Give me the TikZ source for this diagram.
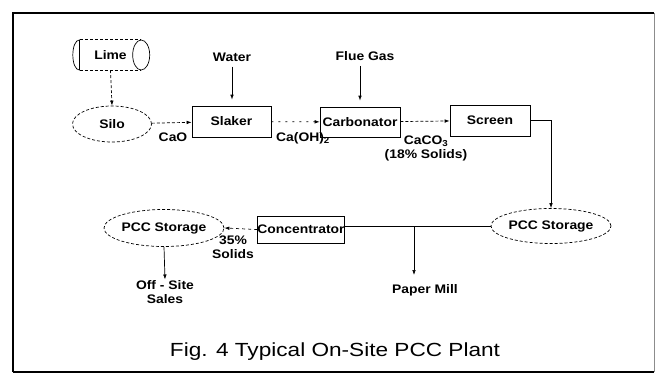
\documentclass[tikz,border=0pt]{standalone}
\usepackage{fontspec}
\setmainfont{Liberation Sans}
\newfontfamily\labfont[FakeStretch=1.12]{Liberation Sans}
\newfontfamily\capfont[FakeStretch=1.19]{Liberation Sans}
\usetikzlibrary{shapes.geometric,arrows.meta,calc}
\begin{document}
\begin{tikzpicture}[x=1pt,y=-1pt,
  lab/.style={font=\labfont\bfseries\fontsize{12.4}{13.5}\selectfont, inner sep=1pt, align=center},
  box/.style={lab, draw, line width=0.7pt, minimum width=80pt, minimum height=30pt, inner sep=0pt},
  oval/.style={lab, ellipse, draw, densely dashed, line width=0.7pt, inner sep=0pt},
  flow/.style={line width=0.7pt, -{Latex[length=5pt,width=3.6pt]}},
  link/.style={line width=0.7pt},
]
\useasboundingbox (0,0) rectangle (656,375);
\fill[white] (0,0) rectangle (656,375);
% frame
\draw[line width=1.8pt] (13,372) -- (13,13) -- (654,13);
\draw[line width=1.6pt] (13,372) -- (654,372);
\draw[line width=0.4pt, black!45] (654,13) -- (654,372);

% nodes
\node[lab, minimum width=61pt, minimum height=30pt, inner sep=0pt] (lime) at (110.5,55) {Lime};
\node[oval, minimum width=79pt, minimum height=36pt] (silo) at (112,124) {Silo};
\node[lab] (water) at (232,57) {Water};
\node[lab] (flue) at (365,56) {Flue Gas};
\node[box, minimum width=79pt, minimum height=31pt] (slaker) at (231.5,121.5) {Slaker};
\node[box] (carb) at (360,122) {Carbonator};
\node[box, minimum height=31pt] (screen) at (490,120.5) {Screen};
\node[lab] (cao) at (173,137.5) {CaO};
\node[lab] (caoh) at (303,138.5) {Ca(OH)\textsubscript{2}};
\node[lab] (caco) at (426,148.5) {CaCO\textsubscript{3}\\(18\% Solids)};
\node[oval, minimum width=84pt, minimum height=35pt] (pccR) at (551,226) {PCC Storage};
\node[box, minimum width=84pt, minimum height=27pt] (conc) at (301,229.5) {Concentrator};
\node[oval, minimum width=85pt, minimum height=37pt] (pccL) at (164,228) {PCC Storage};
\node[lab] (solids) at (233,247) {35\%\\Solids};
\node[lab] (offsite) at (165,292) {Off - Site\\Sales};
\node[lab] (paper) at (425,290) {Paper Mill};
\node[font=\capfont\fontsize{19}{21}\selectfont, inner sep=0pt, anchor=base] (cap) at (335,356) {Fig. 4 Typical On-Site PCC Plant};

% lime cylinder outline
\draw[link, densely dashed] (lime.north west) -- (lime.north east);
\draw[link, densely dashed] (lime.south west) -- (lime.south east);
\draw[link] (lime.north west) -- (lime.south west);
\draw[link] (lime.north west) .. controls ($(lime.north west)+(-9.3,0)$) and ($(lime.south west)+(-9.3,0)$) .. (lime.south west);
\draw[link] (lime.east) ellipse [x radius=8.5pt, y radius=15pt];

% connectors
\draw[flow, densely dashed] (lime.south) -- (silo.north);
\draw[flow, shorten <=4pt, shorten >=6pt] (water.south) -- (water.south |- slaker.north);
\draw[flow, shorten <=4pt, shorten >=6pt] (flue.south -| carb.north) -- (carb.north);
\draw[flow, densely dashed] (silo) -- (slaker);
\draw[flow, dash pattern=on 2pt off 5pt] (slaker) -- (carb);
\draw[flow, densely dashed] (carb) -- (screen);
\draw[flow] (screen.east) -| (pccR.north);
\draw[link] (pccR.west) -- (pccR.west -| conc.east);
\coordinate (br) at (414,0);
\draw[flow, shorten >=8pt] (br |- pccR.west) -- (br |- paper.north);
\draw[flow, dash pattern=on 3pt off 3pt] (conc.west) -- (pccL.east);
\draw[flow] (pccL.south) -- (offsite.north);
\end{tikzpicture}
\end{document}
